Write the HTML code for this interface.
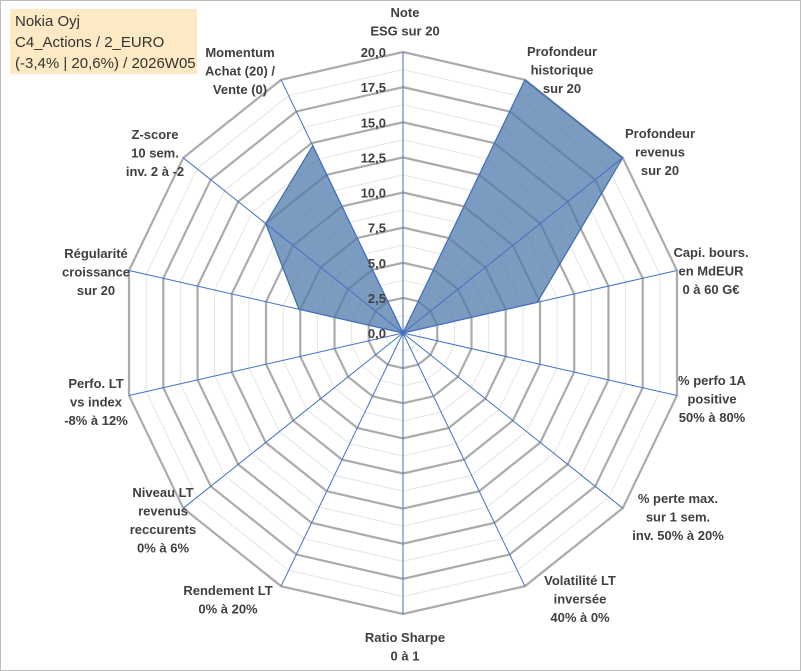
<!DOCTYPE html>
<html><head><meta charset="utf-8"><style>
body{margin:0;background:#fff;}
#wrap{position:relative;width:801px;height:671px;overflow:hidden;font-family:"Liberation Sans",sans-serif;}
#frame{position:absolute;left:0;top:0;width:799px;height:669px;border:1px solid #bdbdbd;}
#title{position:absolute;left:10px;top:9px;width:187px;height:65px;background:#fde9c4;font-size:15px;line-height:21px;color:#333;padding:2px 0 0 5px;box-sizing:border-box;white-space:nowrap;}
svg text{font-family:"Liberation Sans",sans-serif;font-weight:bold;font-size:13px;fill:#404040;}
</style></head><body>
<div id="wrap">
<div id="frame"></div>
<svg id="chart" width="801" height="671" style="position:absolute;left:0;top:0"></svg>
<div id="title">Nokia Oyj<br>C4_Actions / 2_EURO<br>(-3,4% | 20,6%) / 2026W05</div>
</div>
<script>
const categories=[["Note","ESG sur 20"],["Profondeur","historique","sur 20"],["Profondeur","revenus","sur 20"],["Capi. bours.","en MdEUR","0 à 60 G€"],["% perfo 1A","positive","50% à 80%"],["% perte max.","sur 1 sem.","inv. 50% à 20%"],["Volatilité LT","inversée","40% à 0%"],["Ratio Sharpe","0 à 1"],["Rendement LT","0% à 20%"],["Niveau LT","revenus","reccurents","0% à 6%"],["Perfo. LT","vs index","-8% à 12%"],["Régularité","croissance","sur 20"],["Z-score","10 sem.","inv. 2 à -2"],["Momentum","Achat (20) /","Vente (0)"]];
const values=[0,20,20,9.8,0,0,0,0,0,0,0,7.6,12.5,14.8];
const tickLabels=["0,0","2,5","5,0","7,5","10,0","12,5","15,0","17,5","20,0"];
const labelPos=[[405,17],[562,56],[660,138],[711,257],[712,385],[678,503],[580,585],[405,642],[228,595],[163,497],[96,388],[96,258],[155,139],[240,57]];
const NS="http://www.w3.org/2000/svg";
const svg=document.getElementById('chart');
const cx=403,cy=333,R=281,maxV=20,N=categories.length;
function ang(i){return i*2*Math.PI/N;}
function pt(i,v){const r=v/maxV*R;return [cx+r*Math.sin(ang(i)),cy-r*Math.cos(ang(i))];}
function mk(t,a){const e=document.createElementNS(NS,t);for(const k in a)e.setAttribute(k,a[k]);svg.appendChild(e);return e;}
for(let s=1;s<=16;s++){
 const v=s*1.25;const major=s%2===0;
 const p=[];for(let i=0;i<N;i++)p.push(pt(i,v).join(','));
 const e=mk('polygon',{points:p.join(' '),fill:'none',stroke:major?'#ababab':'#e4e4e4','stroke-width':major?2.2:1});
 
 
}
const sp=values.map((v,i)=>pt(i,v).join(',')).join(' ');
const poly=mk('polygon',{points:sp,fill:'rgba(79,123,171,0.75)',stroke:'#3e6aa8','stroke-width':1.2});


for(let i=0;i<N;i++){
 const [x,y]=pt(i,maxV);
 const l=mk('line',{x1:cx,y1:cy,x2:x,y2:y,stroke:'#4472c4','stroke-width':1});
 
 
}
tickLabels.forEach((t,k)=>{
 const y=cy-(k*2.5)/maxV*R;
 const e=mk('text',{x:386,y:y+5,'text-anchor':'end','font-size':14.5});
 e.textContent=t;
 
 
});
categories.forEach((lines,i)=>{
 const [x,y]=labelPos[i];
 const e=mk('text',{x:x,y:y,'text-anchor':'middle'});
 
 
 lines.forEach((s,j)=>{const ts=document.createElementNS(NS,'tspan');ts.setAttribute('x',x);ts.setAttribute('dy',j===0?0:18.5);ts.textContent=s;e.appendChild(ts);});
});
</script>
</body></html>
